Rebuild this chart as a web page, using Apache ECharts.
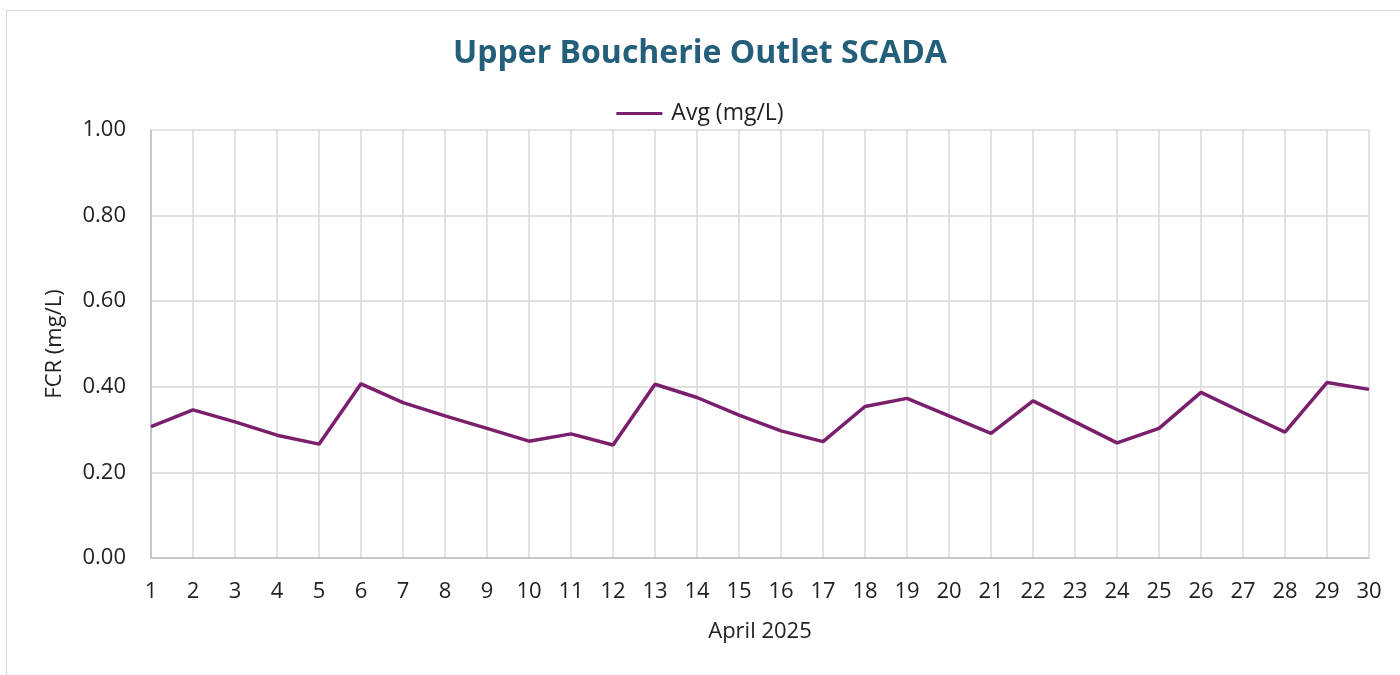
<!DOCTYPE html>
<html>
<head>
<meta charset="utf-8">
<script src="https://cdn.jsdelivr.net/npm/echarts@6/dist/echarts.min.js"></script>
<style>
  html, body { margin: 0; padding: 0; background: #fff; }
  #chart { width: 1400px; height: 675px; }
</style>
</head>
<body>
<div id="chart"></div>
<script>
// data
const days = ['1','2','3','4','5','6','7','8','9','10','11','12','13','14','15',
              '16','17','18','19','20','21','22','23','24','25','26','27','28','29','30'];
const avgFcr = [0.307, 0.346, 0.318, 0.287, 0.266, 0.407, 0.363, 0.332, 0.303, 0.273,
                0.290, 0.264, 0.406, 0.375, 0.334, 0.297, 0.272, 0.354, 0.373, 0.332,
                0.291, 0.367, 0.318, 0.269, 0.303, 0.387, 0.340, 0.294, 0.410, 0.394];

const chart = echarts.init(document.getElementById('chart'));

const option = {
    animation: false,
    textStyle: { fontFamily: 'Open Sans' },
    title: {
        text: 'Upper Boucherie Outlet SCADA',
        left: 'center',
        top: 33,
        textStyle: { color: '#235e7b', fontSize: 32, fontWeight: 'bold', fontFamily: 'Open Sans' }
    },
    legend: {
        data: ['Avg (mg/L)'],
        top: 97,
        left: 'center',
        itemWidth: 46,
        itemHeight: 3,
        itemGap: 6,
        icon: 'rect',
        itemStyle: { borderWidth: 0 },
        textStyle: { fontSize: 23, color: '#222', padding: [0, 0, 0, 4] }
    },
    graphic: [
        {
            type: 'rect',
            shape: { x: 6.5, y: 10.5, width: 1400, height: 700 },
            style: { fill: 'none', stroke: '#d9d9d9', lineWidth: 1 },
            silent: true
        }
    ],
    grid: { left: 151, right: 31, top: 130, bottom: 117 },
    xAxis: {
        type: 'category',
        data: days,
        boundaryGap: false,
        name: 'April 2025',
        nameLocation: 'middle',
        nameGap: 63,
        nameTextStyle: { fontSize: 22, color: '#222' },
        axisLine: { lineStyle: { color: '#bfbfbf', width: 1.5 } },
        axisTick: { show: false },
        axisLabel: { fontSize: 22, color: '#222', margin: 23 },
        splitLine: { show: true, lineStyle: { color: '#d9d9d9', width: 1.5 } }
    },
    yAxis: {
        type: 'value',
        min: 0,
        max: 1,
        interval: 0.2,
        name: 'FCR (mg/L)',
        nameLocation: 'middle',
        nameGap: 85,
        nameTextStyle: { fontSize: 22, color: '#222' },
        axisLine: { show: true, lineStyle: { color: '#bfbfbf', width: 1.5 } },
        axisTick: { show: false },
        axisLabel: {
            fontSize: 22, color: '#222', margin: 25,
            formatter: v => v.toFixed(2)
        },
        splitLine: { lineStyle: { color: '#d9d9d9', width: 1.5 } }
    },
    series: [
        {
            name: 'Avg (mg/L)',
            type: 'line',
            data: avgFcr,
            symbol: 'none',
            lineStyle: { color: '#7a1f6c', width: 3.5 },
            itemStyle: { color: '#7a1f6c' }
        }
    ]
};

chart.setOption(option);
</script>
</body>
</html>
